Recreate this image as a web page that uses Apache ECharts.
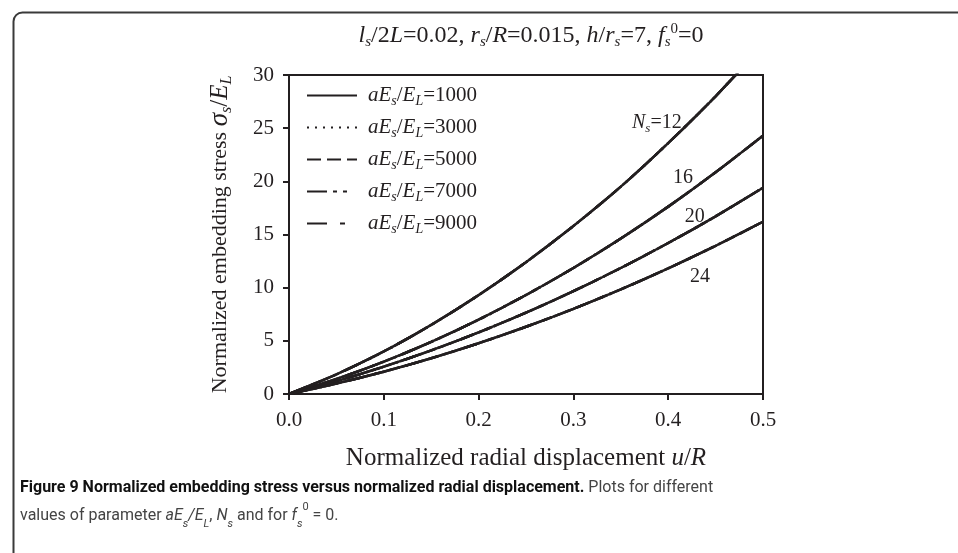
<!DOCTYPE html>
<html>
<head>
<meta charset="utf-8">
<script src="https://cdn.jsdelivr.net/npm/echarts@6/dist/echarts.min.js"></script>
<style>
  html, body { margin: 0; padding: 0; background: #fff; }
  #chart { width: 958px; height: 553px; }
</style>
</head>
<body>
<div id="chart"></div>
<script>
// normalized radial displacement u/R
const uVals = [0, 0.05, 0.1, 0.15, 0.2, 0.25, 0.3, 0.35, 0.4, 0.45, 0.5];
// normalized embedding stress, one curve per number of strands N_s
// (the aE_s/E_L curves lie on top of each other in the figure)
const stressNs12 = [0, 1.85, 4.0, 6.5, 9.3, 12.4, 15.8, 19.5, 23.6, 28.0, 32.8];
const stressNs16 = [0, 1.41, 3.04, 4.9, 6.99, 9.31, 11.85, 14.62, 17.62, 20.85, 24.3];
const stressNs20 = [0, 1.2, 2.57, 4.1, 5.79, 7.65, 9.67, 11.85, 14.2, 16.71, 19.4];
const stressNs24 = [0, 0.98, 2.1, 3.36, 4.77, 6.32, 8.01, 9.84, 11.82, 13.94, 16.2];
const nsCurves = [stressNs12, stressNs16, stressNs20, stressNs24];
const aeValues = ['1000', '3000', '5000', '7000', '9000'];
const xTicks = [0, 0.1, 0.2, 0.3, 0.4, 0.5];
const yTicks = [0, 5, 10, 15, 20, 25, 30];

const ink = '#231f20';
const serif = '"Liberation Serif", "Times New Roman", serif';
const sans = 'Roboto, "Open Sans", sans-serif';

// dash pattern for each legend entry
const dashFor = {
  '1000': 'solid',
  '3000': [2, 6],
  '5000': [14, 6],
  '7000': [20, 6, 4, 6, 4, 20],
  '9000': [20, 13, 5, 20]
};

// rich text styles: normal, italic, subscript, superscript
function richSet(size, sub) {
  return {
    n: { fontFamily: serif, fontSize: size, fontWeight: 'normal', fill: ink, color: ink, lineHeight: size + 4 },
    i: { fontFamily: serif, fontSize: size, fontWeight: 'normal', fontStyle: 'italic', fill: ink, color: ink, lineHeight: size + 4 },
    s: { fontFamily: serif, fontSize: sub, fontWeight: 'normal', fontStyle: 'italic', fill: ink, color: ink, lineHeight: 8, verticalAlign: 'bottom' },
    p: { fontFamily: serif, fontSize: sub, fontWeight: 'normal', fill: ink, color: ink, lineHeight: 8, verticalAlign: 'top' }
  };
}

const chart = echarts.init(document.getElementById('chart'));

const series = [];
// dashed entries first, solid one drawn last on top
aeValues.slice().reverse().forEach(ae => {
  nsCurves.forEach(curve => {
    series.push({
      type: 'line',
      name: ae,
      data: uVals.map((u, i) => [u, curve[i]]),
      smooth: 0.3,
      symbol: 'none',
      clip: true,
      lineStyle: { color: ink, width: 2.5, type: dashFor[ae] },
      itemStyle: { color: ink },
      emphasis: { disabled: true }
    });
  });
});

chart.setOption({
  animation: false,
  backgroundColor: '#fff',
  grid: { left: 289, right: 195, top: 75, bottom: 159, show: true, borderColor: ink, borderWidth: 2 },
  title: {
    text: '{i|l}{s|s}{n|/2}{i|L}{n|=0.02, }{i|r}{s|s}{n|/}{i|R}{n|=0.015, }{i|h}{n|/}{i|r}{s|s}{n|=7, }{i|f}{s|s}{p|0}{n|=0}',
    left: 526,
    top: 17,
    textAlign: 'center',
    textStyle: { fontWeight: 'normal', rich: richSet(24, 15) }
  },
  legend: {
    orient: 'vertical',
    left: 306,
    top: 85,
    padding: 0,
    itemWidth: 50,
    itemHeight: 14,
    itemGap: 9,
    data: aeValues,
    selectedMode: false,
    itemStyle: { opacity: 0 },
    formatter: name => '{i|aE}{s|s}{n|/}{i|E}{s|L}{n|=' + name + '}',
    textStyle: { padding: [0, 0, 0, 6], rich: richSet(21, 14) }
  },
  xAxis: {
    type: 'value',
    min: 0,
    max: 0.5,
    interval: 0.1,
    name: '{n|Normalized radial displacement }{i|u}{n|/}{i|R}',
    nameLocation: 'middle',
    nameGap: 52,
    nameTextStyle: {
      rich: {
        n: { fontFamily: serif, fontSize: 25, color: ink },
        i: { fontFamily: serif, fontSize: 25, fontStyle: 'italic', color: ink }
      }
    },
    axisLine: { lineStyle: { color: ink, width: 2 } },
    axisTick: { inside: false, length: 6, lineStyle: { color: ink, width: 2 } },
    axisLabel: {
      formatter: v => xTicks.includes(+v.toFixed(1)) ? v.toFixed(1) : '',
      fontFamily: serif, fontSize: 21, color: ink, margin: 16
    },
    splitLine: { show: false }
  },
  yAxis: {
    type: 'value',
    min: 0,
    max: 30,
    interval: 5,
    name: '{n|Normalized embedding stress }{g|σ}{gs|s}{gn|/}{gi|E}{gs|L}',
    nameLocation: 'middle',
    nameRotate: 90,
    nameGap: 54,
    nameTextStyle: {
      rich: {
        n: { fontFamily: serif, fontSize: 22, color: ink, lineHeight: 30 },
        g: { fontFamily: serif, fontSize: 27, fontStyle: 'italic', color: ink, lineHeight: 30 },
        gn: { fontFamily: serif, fontSize: 25, color: ink, lineHeight: 30 },
        gi: { fontFamily: serif, fontSize: 25, fontStyle: 'italic', color: ink, lineHeight: 30 },
        gs: { fontFamily: serif, fontSize: 16, fontStyle: 'italic', color: ink, lineHeight: 10, verticalAlign: 'bottom' }
      }
    },
    axisLine: { lineStyle: { color: ink, width: 2 } },
    axisTick: { length: 6, lineStyle: { color: ink, width: 2 } },
    axisLabel: {
      formatter: v => yTicks.includes(v) ? String(v) : '',
      fontFamily: serif, fontSize: 21, color: ink, margin: 15
    },
    splitLine: { show: false }
  },
  series: series
});

// N_s labels next to the curves, placed in data units through the axes
const curveLabels = [
  { at: [0.388, 25.5], text: '{i|N}{s|s}{n|=12}' },
  { at: [0.4156, 20.3], text: '{n|16}' },
  { at: [0.428, 16.65], text: '{n|20}' },
  { at: [0.4335, 11.0], text: '{n|24}' }
];

const labelGraphics = curveLabels.map(lb => {
  const [px, py] = chart.convertToPixel({ gridIndex: 0 }, lb.at);
  return {
    type: 'text',
    x: px, y: py,
    silent: true,
    style: { text: lb.text, align: 'center', verticalAlign: 'middle', fill: ink, rich: richSet(20, 13) }
  };
});

chart.setOption({
  graphic: [
    {
      type: 'rect',
      left: 11, top: 10,
      shape: { width: 1200, height: 800, r: 9 },
      style: { fill: 'none', stroke: '#3a3a3a', lineWidth: 2 },
      silent: true
    },
    {
      type: 'text',
      left: 20, top: 480,
      style: {
        text: '{b|Figure 9 Normalized embedding stress versus normalized radial displacement.}{r| Plots for different}\n{r|values of parameter }{ri|aE}{rs|s}{ri|/E}{rs|L}{r|, }{ri|N}{rs|s}{r| and for }{ri|f}{rs|s}{rp|0}{r| = 0.}',
        rich: {
          b: { fontFamily: sans, fontWeight: 'bold', fontSize: 16, fill: '#111', lineHeight: 28 },
          r: { fontFamily: sans, fontSize: 16, fill: '#444', lineHeight: 28 },
          ri: { fontFamily: sans, fontStyle: 'italic', fontSize: 16, fill: '#444', lineHeight: 28 },
          rs: { fontFamily: sans, fontStyle: 'italic', fontSize: 11, fill: '#444', lineHeight: 12, verticalAlign: 'bottom' },
          rp: { fontFamily: sans, fontSize: 11, fill: '#444', lineHeight: 16, verticalAlign: 'top' }
        }
      }
    }
  ].concat(labelGraphics)
});
</script>
</body>
</html>
